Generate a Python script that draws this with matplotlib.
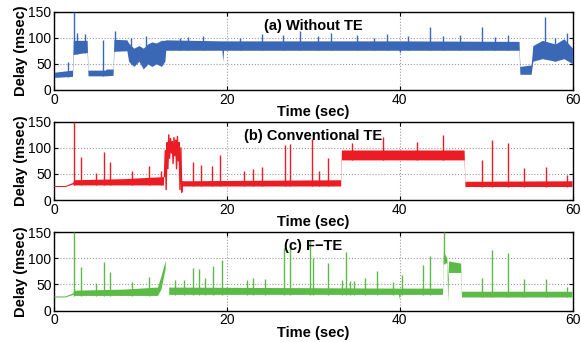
import numpy as np
import matplotlib
matplotlib.use("Agg")
import matplotlib.pyplot as plt

plt.rcParams["font.family"] = ["Liberation Sans", "DejaVu Sans"]

titles = ["(a) Without TE", "(b) Conventional TE", "(c) F\u2212TE"]
colors = ["#3b68b6", "#ec1c24", "#5cba47"]

# (a) without TE: band envelope (low / high) and spikes
a_env_t = [0, 2.1, 2.2, 3.8, 3.9, 5.9, 6.0, 6.8, 6.9, 8.4, 8.6, 9.2, 9.8, 10.3,
           10.8, 11.3, 11.8, 12.4, 12.8, 12.9, 19.4, 19.5, 19.6, 39.9, 40.0, 40.1,
           53.8, 53.9, 55.2, 55.4, 56.5, 58.0, 59.0, 60]
a_env_lo = [24, 26, 68, 72, 27, 27, 27, 28, 74, 75, 55, 45, 55, 40,
            50, 45, 50, 45, 55, 76, 76, 55, 76, 76, 70, 76,
            76, 30, 30, 55, 60, 55, 60, 50]
a_env_hi = [34, 38, 95, 95, 38, 38, 40, 40, 97, 96, 90, 80, 85, 80,
            88, 92, 90, 95, 95, 96, 94, 94, 94, 94, 94, 94,
            93, 45, 48, 85, 95, 88, 98, 80]
a_spike_t = [1.55, 2.3, 2.6, 3.5, 5.6, 7.0, 8.9, 10.6, 14.5, 15.5, 17.2, 21.5, 24.0,
             26.5, 28.5, 30.5, 32.0, 35.0, 37.0, 38.5, 41.0, 43.5, 45.0, 47.0,
             49.5, 51.0, 52.5, 56.8, 58.0, 59.3]
a_spike_v = [53, 150, 110, 108, 95, 113, 100, 103, 100, 102, 104, 100, 108,
             105, 112, 103, 110, 105, 100, 108, 104, 120, 103, 105,
             120, 102, 106, 140, 100, 110]

# (b) conventional TE
b_env_t = [0, 1.3, 2.2, 2.3, 8.0, 12.7, 12.75, 14.85, 14.9, 33.2, 33.3, 47.5, 47.6, 60]
b_env_lo = [25, 25, 30, 28, 28, 28, np.nan, np.nan, 26, 26, 76, 76, 25, 25]
b_env_hi = [27, 27, 33, 38, 40, 44, np.nan, np.nan, 36, 38, 95, 95, 35, 36]
b_trace_t = [12.75, 12.85, 12.95, 13.05, 13.15, 13.25, 13.35, 13.45, 13.55, 13.65, 13.75,
             13.85, 13.95, 14.05, 14.15, 14.25, 14.35, 14.45, 14.55, 14.65, 14.75, 14.85]
b_trace_v = [45, 95, 20, 110, 60, 125, 80, 118, 90, 112, 70,
             120, 85, 115, 60, 122, 75, 110, 20, 100, 15, 35]
b_spike_t = [2.3, 3.1, 4.8, 5.7, 6.5, 9.0, 11.0, 12.4, 16.0, 17.0, 18.2, 19.2, 22.0,
             23.0, 24.0, 26.7, 27.3, 29.8, 30.7, 31.7, 34.5, 38.0, 42.0, 45.0,
             49.5, 50.7, 52.5, 54.4, 56.9, 59.3]
b_spike_v = [150, 83, 52, 93, 73, 55, 65, 55, 72, 68, 65, 87, 55,
             60, 63, 105, 108, 117, 55, 80, 110, 120, 112, 125,
             77, 115, 109, 61, 63, 48]

# (c) F-TE
c_env_t = [0, 1.3, 2.2, 2.3, 8.0, 12.0, 12.4, 12.9, 12.95, 13.25, 13.3, 39.9, 40.0,
           40.1, 45.0, 45.1, 45.5, 45.6, 45.7, 47.1, 47.2, 60]
c_env_lo = [25, 25, 30, 28, 28, 28, 40, 80, np.nan, np.nan, 30, 30, 22,
            30, 30, 90, 90, 15, 72, 72, 25, 25]
c_env_hi = [27, 27, 33, 38, 40, 44, 65, 95, np.nan, np.nan, 44, 42, 42,
            42, 42, 112, 100, 60, 94, 90, 36, 36]
c_spike_t = [2.3, 3.1, 4.8, 5.7, 6.5, 9.0, 11.0, 14.0, 15.0, 16.0, 16.8, 17.5, 18.4,
             19.4, 22.3, 23.0, 24.4, 26.6, 27.3, 29.6, 29.9, 31.7, 33.3, 33.8, 34.2,
             34.7, 36.0, 37.3, 39.2, 40.2, 42.7, 43.5, 45.1,
             49.5, 50.7, 52.5, 54.4, 56.9, 59.3]
c_spike_v = [150, 83, 52, 93, 73, 55, 65, 59, 59, 82, 80, 62, 85,
             97, 58, 62, 60, 120, 120, 135, 100, 91, 59, 113, 56,
             56, 62, 75, 55, 68, 88, 104, 150,
             63, 115, 110, 60, 60, 45]

panels = [
    (a_env_t, a_env_lo, a_env_hi, a_spike_t, a_spike_v, None, None),
    (b_env_t, b_env_lo, b_env_hi, b_spike_t, b_spike_v, b_trace_t, b_trace_v),
    (c_env_t, c_env_lo, c_env_hi, c_spike_t, c_spike_v, None, None),
]

fig = plt.figure(figsize=(5.81, 3.42), dpi=100)
boxes = [0.737, 0.415, 0.092]
left = 0.0935
width = 0.9925 - left - 0.007
height = 0.229

for i in range(3):
    ax = fig.add_axes([left, boxes[i], width, height])
    env_t, env_lo, env_hi, sp_t, sp_v, tr_t, tr_v = panels[i]
    col = colors[i]

    t = np.array(env_t, dtype=float)
    lo = np.array(env_lo, dtype=float)
    hi = np.array(env_hi, dtype=float)
    ax.fill_between(t, lo, hi, color=col, linewidth=0, zorder=3)

    ok = ~np.isnan(lo)
    base = np.interp(sp_t, t[ok], lo[ok])
    ax.vlines(sp_t, base, sp_v, color=col, linewidth=1.0, zorder=3)

    if tr_t is not None:
        ax.plot(tr_t, tr_v, color=col, linewidth=1.0, zorder=3)

    ax.set_xlim(0, 60)
    ax.set_ylim(0, 150)
    ax.set_xticks([0, 20, 40, 60])
    ax.set_yticks([0, 50, 100, 150])
    ax.grid(True, linestyle=":", color="#999999", linewidth=0.8)
    ax.tick_params(direction="in", top=True, right=True, labelsize=10, pad=2,
                   length=3, width=0.8)
    for s in ax.spines.values():
        s.set_linewidth(1.0)
    ax.set_xlabel("Time (sec)", fontsize=10.5, fontweight="bold", labelpad=-1)
    ax.set_ylabel("Delay (msec)", fontsize=10.5, fontweight="bold", labelpad=0)
    ax.text(30, 123, titles[i], fontsize=10.5, fontweight="bold",
            ha="center", va="center", zorder=4)

fig.savefig("out.png", dpi=100)
